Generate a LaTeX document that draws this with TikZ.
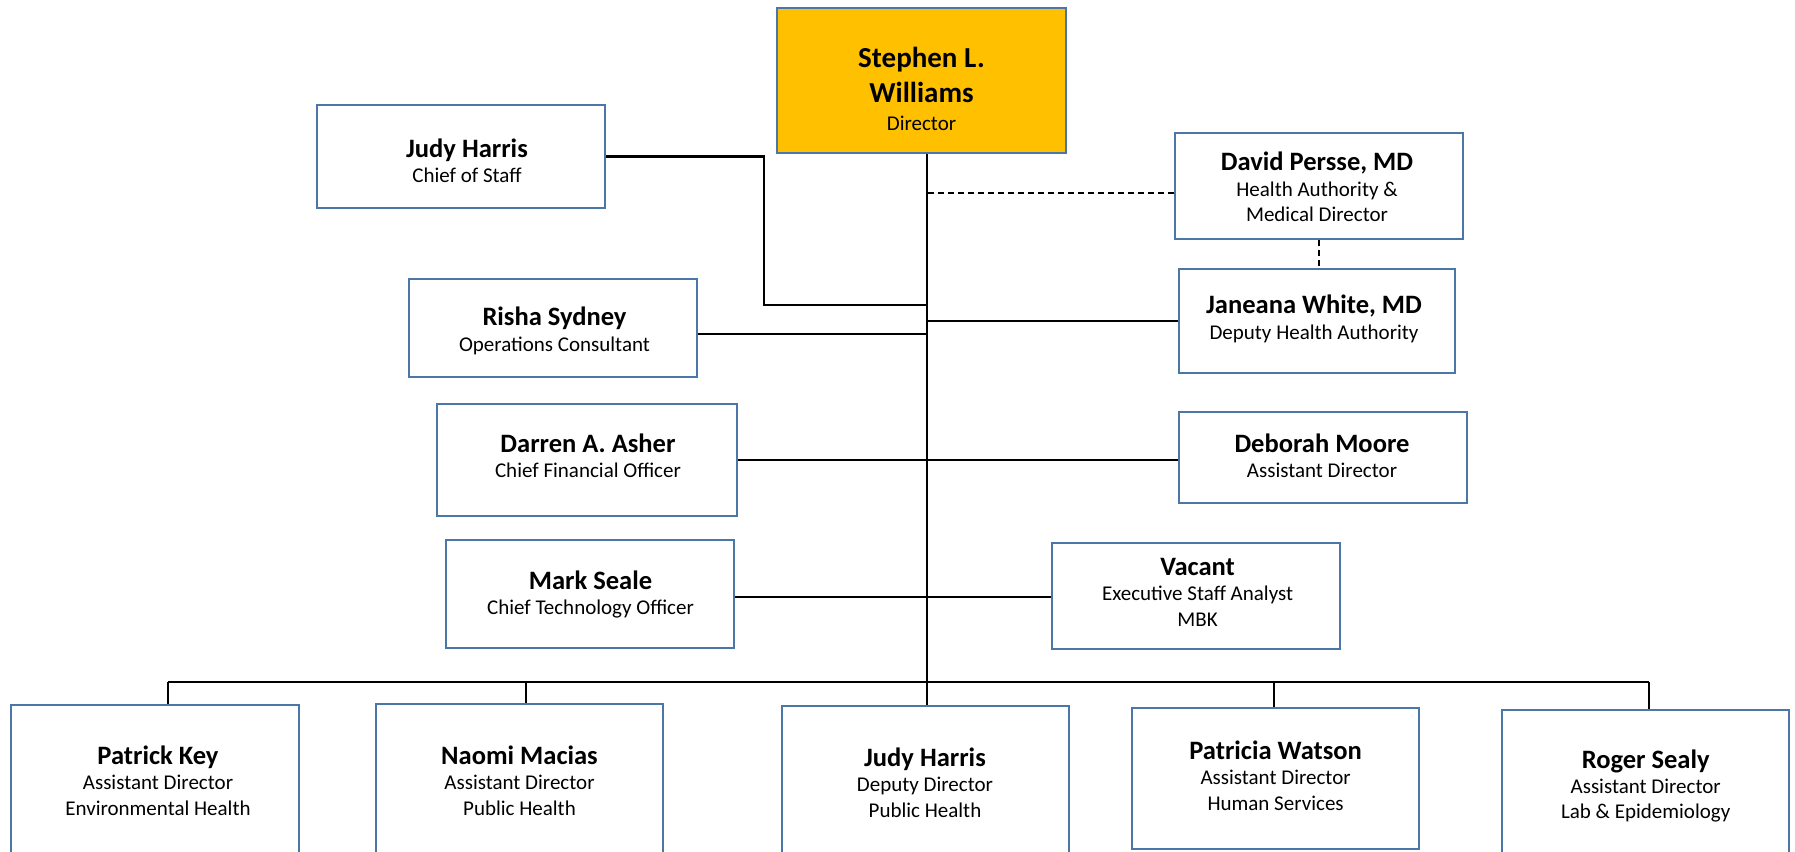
\documentclass[tikz,border=0pt]{standalone}
\usepackage{fontspec}
\setmainfont{Carlito}
\usetikzlibrary{fit,calc}
\definecolor{boxblue}{HTML}{4A77A8}
\definecolor{gold}{HTML}{FFC000}
\newcommand\nmf{\fontsize{19.9pt}{19.1pt}\selectfont\bfseries}
\newcommand\dnf{\fontsize{21.75pt}{19.1pt}\selectfont\bfseries}
\tikzset{
 box/.style={draw=boxblue, line width=2pt, fill=white, inner sep=0pt},
 txt/.style={align=center, inner sep=0pt, font=\fontsize{15.75pt}{19.1pt}\selectfont},
 conn/.style={line width=1.6pt, black},
 dconn/.style={conn, dash pattern=on 4.5pt off 3pt},
}
\begin{document}
\begin{tikzpicture}[x=0.75pt,y=-0.75pt]
\useasboundingbox (0,0) rectangle (1795,851);
% boxes
\node[box, fill=gold, fit={(777,8) (1066,153)}] (dir) {};
\node[box, fit={(317,105) (605,208)}] (jh) {};
\node[box, fit={(409,279) (697,377)}] (rs) {};
\node[box, fit={(1175,133) (1463,239)}] (pe) {};
\node[box, fit={(1179,269) (1455,373)}] (jw) {};
\node[box, fit={(437,404) (737,516)}] (dar) {};
\node[box, fit={(1179,412) (1467,503)}] (deb) {};
\node[box, fit={(446,540) (734,648)}] (ms) {};
\node[box, fit={(1052,543) (1340,649)}] (vac) {};
\node[box, fit={(11,705) (299,855)}] (pk) {};
\node[box, fit={(376,704) (663,855)}] (nm) {};
\node[box, fit={(782,706) (1069,860)}] (jd) {};
\node[box, fit={(1132,708) (1419,849)}] (pw) {};
\node[box, fit={(1502,710) (1789,860)}] (rsy) {};
% texts
\node[txt] (dirt) at (921.5,89) {{\dnf Stephen L.}\\[6.8pt]{\dnf Williams}\\[2.2pt]Director};
\node[txt] (jht) at (467,160.5) {{\nmf Judy Harris}\\Chief of Staff};
\node[txt] (rst) at (554.5,331) {{\nmf Risha Sydney}\\Operations Consultant};
\node[txt] (pet) at (1317,187) {{\nmf David Persse, MD}\\Health Authority \&\\Medical Director};
\node[txt] (jwt) at (1314,319) {{\nmf Janeana White, MD}\\Deputy Health Authority};
\node[txt] (dart) at (588,456) {{\nmf Darren A. Asher}\\Chief Financial Officer};
\node[txt] (debt) at (1322,456) {{\nmf Deborah Moore}\\Assistant Director};
\node[txt] (mst) at (590.5,594.4) {{\nmf Mark Seale}\\Chief Technology Officer};
\node[txt] (vact) at (1197.6,592) {{\nmf Vacant}\\Executive Staff Analyst\\MBK};
\node[txt] (pkt) at (158,780.5) {{\nmf Patrick Key}\\Assistant Director\\Environmental Health};
\node[txt] (nmt) at (519.5,780.5) {{\nmf Naomi Macias}\\Assistant Director\\Public Health};
\node[txt] (jdt) at (925,782.5) {{\nmf Judy Harris}\\Deputy Director\\Public Health};
\node[txt] (pwt) at (1275.6,775.5) {{\nmf Patricia Watson}\\Assistant Director\\Human Services};
\node[txt] (rsyt) at (1645.7,786) {{\nmf Roger Sealy}\\Assistant Director\\Lab \& Epidemiology};
% connectors
\coordinate (tk) at (927,0);
\draw[conn] (dir.south -| tk) -- (tk |- jd.north);
\coordinate (jhk) at (764,305);
\draw[conn] (jh.east) -| (jhk) -- (jhk -| tk);
\coordinate (rsc) at ($(rs.east)+(0,6)$);
\draw[conn] (rsc) -- (rsc -| tk);
\draw[conn] (jw.west) -- (jw.west -| tk);
\draw[conn] (dar.east) -- (dar.east -| deb.west);
\coordinate (msc) at ($(ms.east)+(0,3)$);
\draw[conn] (msc) -- (msc -| vac.west);
\coordinate (pd) at ($(pe.west)+(0,7)$);
\draw[dconn] (pd) -- (pd -| tk);
\draw[dconn] (pe.south) -- (pe.south |- jw.north);
\coordinate (bl) at (168,682);
\coordinate (bn) at (526,682);
\coordinate (bw) at (1274,682);
\coordinate (br) at (1649,682);
\draw[conn] (bl) -- (br);
\draw[conn] (bl) -- (bl |- pk.north);
\draw[conn] (bn) -- (bn |- nm.north);
\draw[conn] (bw) -- (bw |- pw.north);
\draw[conn] (br) -- (br |- rsy.north);
\end{tikzpicture}
\end{document}
